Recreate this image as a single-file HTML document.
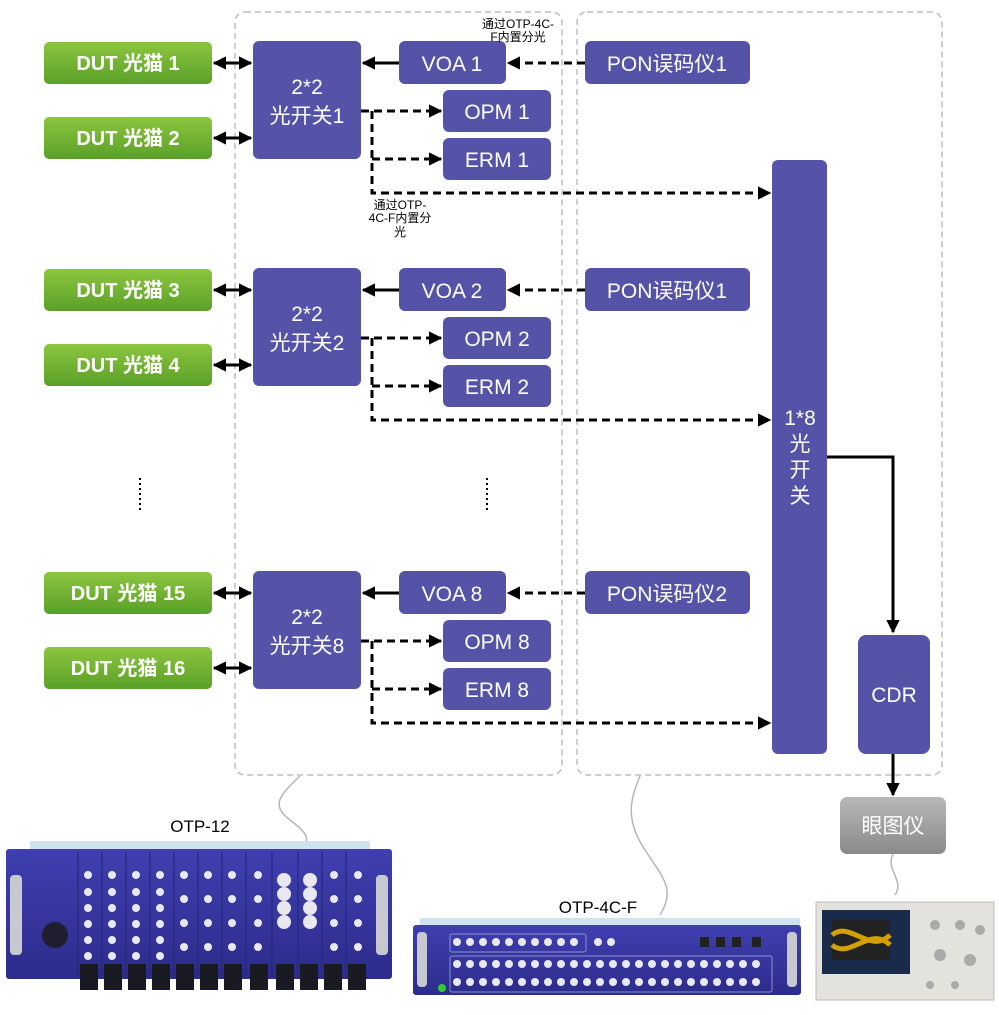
<!DOCTYPE html>
<html><head><meta charset="utf-8"><style>
html,body{margin:0;padding:0;background:#fff;}
svg{display:block;}
text{font-family:"Liberation Sans","Noto Sans CJK SC",sans-serif;}
</style></head><body>
<svg width="999" height="1015" viewBox="0 0 999 1015" xmlns="http://www.w3.org/2000/svg">
<defs>
<linearGradient id="gr" x1="0" y1="0" x2="0" y2="1"><stop offset="0" stop-color="#8cc63f"/><stop offset="1" stop-color="#5aa028"/></linearGradient>
<linearGradient id="gy" x1="0" y1="0" x2="0" y2="1"><stop offset="0" stop-color="#b8b8b8"/><stop offset="1" stop-color="#8a8a8a"/></linearGradient>
<linearGradient id="bl" x1="0" y1="0" x2="0" y2="1"><stop offset="0" stop-color="#3f3fb0"/><stop offset="1" stop-color="#2c2c8c"/></linearGradient>
<marker id="a" viewBox="0 0 10 10" refX="9" refY="5" markerWidth="4.5" markerHeight="4.5" orient="auto-start-reverse"><path d="M0,0L10,5L0,10z" fill="#000"/></marker>
<g id="grp">
 <rect x="44" y="42" width="168" height="42" rx="5" fill="url(#gr)"/>
 <rect x="44" y="117" width="168" height="42" rx="5" fill="url(#gr)"/>
 <line x1="214" y1="63" x2="251" y2="63" stroke="#000" stroke-width="3" marker-start="url(#a)" marker-end="url(#a)"/>
 <line x1="214" y1="138" x2="251" y2="138" stroke="#000" stroke-width="3" marker-start="url(#a)" marker-end="url(#a)"/>
 <rect x="253" y="41" width="108" height="118" rx="6" fill="#5553a8"/>
 <rect x="399" y="41" width="107" height="43" rx="6" fill="#5553a8"/>
 <rect x="443" y="90" width="108" height="42" rx="6" fill="#5553a8"/>
 <rect x="443" y="138" width="108" height="42" rx="6" fill="#5553a8"/>
 <rect x="585" y="41" width="165" height="43" rx="6" fill="#5553a8"/>
 <line x1="399" y1="63" x2="363" y2="63" stroke="#000" stroke-width="3" marker-end="url(#a)"/>
 <line x1="585" y1="63" x2="508" y2="63" stroke="#000" stroke-width="3" stroke-dasharray="8,5" marker-end="url(#a)"/>
 <line x1="361" y1="111" x2="441" y2="111" stroke="#000" stroke-width="3" stroke-dasharray="8,5" marker-end="url(#a)"/>
 <path d="M372,111V193H770" fill="none" stroke="#000" stroke-width="3" stroke-dasharray="8,5" marker-end="url(#a)"/>
 <line x1="372" y1="159" x2="441" y2="159" stroke="#000" stroke-width="3" stroke-dasharray="8,5" marker-end="url(#a)"/>
 <g fill="#fff" font-size="21" text-anchor="middle">
  <text x="307" y="94">2*2</text>
 </g>
</g>
</defs>
<rect x="235" y="12" width="327" height="763" rx="10" fill="none" stroke="#bdbdbd" stroke-width="1.5" stroke-dasharray="6,4"/>
<rect x="577" y="12" width="365" height="763" rx="10" fill="none" stroke="#bdbdbd" stroke-width="1.5" stroke-dasharray="6,4"/>

<use href="#grp"/>
<use href="#grp" transform="translate(0,227)"/>
<use href="#grp" transform="translate(0,530)"/>

<g fill="#fff" font-size="20" text-anchor="middle" font-weight="bold">
<text x="128" y="70">DUT 光猫 1</text><text x="128" y="145">DUT 光猫 2</text>
<text x="128" y="297">DUT 光猫 3</text><text x="128" y="372">DUT 光猫 4</text>
<text x="128" y="600">DUT 光猫 15</text><text x="128" y="675">DUT 光猫 16</text>
</g>
<g fill="#fff" font-size="21" text-anchor="middle">
<text x="307" y="123">光开关1</text><text x="307" y="350">光开关2</text><text x="307" y="653">光开关8</text>
<text x="452" y="71">VOA 1</text><text x="452" y="298">VOA 2</text><text x="452" y="601">VOA 8</text>
<text x="497" y="119">OPM 1</text><text x="497" y="346">OPM 2</text><text x="497" y="649">OPM 8</text>
<text x="497" y="167">ERM 1</text><text x="497" y="394">ERM 2</text><text x="497" y="697">ERM 8</text>
<text x="667" y="71">PON误码仪1</text><text x="667" y="298">PON误码仪1</text><text x="667" y="601">PON误码仪2</text>
</g>
<g font-size="12" fill="#000" text-anchor="middle">
<text x="518" y="28">通过OTP-4C-</text><text x="518" y="41">F内置分光</text>
<text x="400" y="209">通过OTP-</text><text x="400" y="222">4C-F内置分</text><text x="400" y="236">光</text>
</g>
<line x1="140" y1="478" x2="140" y2="512" stroke="#000" stroke-width="2" stroke-dasharray="2,3"/>
<line x1="487" y1="478" x2="487" y2="512" stroke="#000" stroke-width="2" stroke-dasharray="2,3"/>
<rect x="772" y="160" width="55" height="594" rx="6" fill="#5553a8"/>
<g fill="#fff" font-size="21" text-anchor="middle"><text x="800" y="425">1*8</text><text x="800" y="451">光</text><text x="800" y="477">开</text><text x="800" y="503">关</text></g>
<path d="M827,457H893V632" fill="none" stroke="#000" stroke-width="3" marker-end="url(#a)"/>
<rect x="858" y="635" width="72" height="119" rx="8" fill="#5553a8"/>
<text x="894" y="702" fill="#fff" font-size="21" text-anchor="middle">CDR</text>
<line x1="893" y1="754" x2="893" y2="795" stroke="#000" stroke-width="3" marker-end="url(#a)"/>
<rect x="840" y="797" width="106" height="57" rx="7" fill="url(#gy)"/>
<text x="893" y="833" fill="#fff" font-size="21" text-anchor="middle">眼图仪</text>
<path d="M300,776C280,795 270,805 290,820S310,840 300,848" fill="none" stroke="#b5b5b5" stroke-width="1.5"/>
<path d="M640,776C630,800 625,820 645,850S675,890 660,915" fill="none" stroke="#b5b5b5" stroke-width="1.5"/>
<path d="M893,854C885,870 905,880 895,895" fill="none" stroke="#b5b5b5" stroke-width="1.5"/>
<text x="200" y="832" font-size="17" text-anchor="middle" fill="#000">OTP-12</text>
<text x="598" y="913" font-size="17" text-anchor="middle" fill="#000">OTP-4C-F</text>
<rect x="30" y="841" width="340" height="8" fill="#cfe3ee"/>
<rect x="6" y="849" width="386" height="130" rx="3" fill="url(#bl)"/>
<rect x="10" y="875" width="12" height="80" rx="4" fill="#c8c8d0"/>
<rect x="376" y="875" width="12" height="80" rx="4" fill="#c8c8d0"/>
<g stroke="#23237a" stroke-width="1">
<line x1="78" y1="852" x2="78" y2="975"/><line x1="102" y1="852" x2="102" y2="975"/><line x1="126" y1="852" x2="126" y2="975"/><line x1="150" y1="852" x2="150" y2="975"/><line x1="174" y1="852" x2="174" y2="975"/><line x1="198" y1="852" x2="198" y2="975"/><line x1="222" y1="852" x2="222" y2="975"/><line x1="246" y1="852" x2="246" y2="975"/><line x1="272" y1="852" x2="272" y2="975"/><line x1="298" y1="852" x2="298" y2="975"/><line x1="322" y1="852" x2="322" y2="975"/><line x1="346" y1="852" x2="346" y2="975"/>
</g>
<circle cx="55" cy="935" r="13" fill="#1e1e2e"/>
<g fill="#e8e8ee">
<circle cx="88" cy="875" r="4"/><circle cx="88" cy="892" r="4"/><circle cx="88" cy="908" r="4"/><circle cx="88" cy="924" r="4"/><circle cx="88" cy="940" r="4"/><circle cx="88" cy="956" r="4"/>
<circle cx="112" cy="875" r="4"/><circle cx="112" cy="892" r="4"/><circle cx="112" cy="908" r="4"/><circle cx="112" cy="924" r="4"/><circle cx="112" cy="940" r="4"/><circle cx="112" cy="956" r="4"/>
<circle cx="136" cy="875" r="4"/><circle cx="136" cy="892" r="4"/><circle cx="136" cy="908" r="4"/><circle cx="136" cy="924" r="4"/><circle cx="136" cy="940" r="4"/><circle cx="136" cy="956" r="4"/>
<circle cx="160" cy="875" r="4"/><circle cx="160" cy="892" r="4"/><circle cx="160" cy="908" r="4"/><circle cx="160" cy="924" r="4"/><circle cx="160" cy="940" r="4"/><circle cx="160" cy="956" r="4"/>
<circle cx="184" cy="875" r="4"/><circle cx="184" cy="899" r="4"/><circle cx="184" cy="923" r="4"/><circle cx="184" cy="947" r="4"/>
<circle cx="208" cy="875" r="4"/><circle cx="208" cy="899" r="4"/><circle cx="208" cy="923" r="4"/><circle cx="208" cy="947" r="4"/>
<circle cx="232" cy="875" r="4"/><circle cx="232" cy="899" r="4"/><circle cx="232" cy="923" r="4"/><circle cx="232" cy="947" r="4"/>
<circle cx="258" cy="875" r="4"/><circle cx="258" cy="899" r="4"/><circle cx="258" cy="923" r="4"/><circle cx="258" cy="947" r="4"/>
<circle cx="284" cy="880" r="7"/><circle cx="284" cy="894" r="7"/><circle cx="284" cy="908" r="7"/><circle cx="284" cy="922" r="7"/>
<circle cx="310" cy="880" r="7"/><circle cx="310" cy="894" r="7"/><circle cx="310" cy="908" r="7"/><circle cx="310" cy="922" r="7"/>
<circle cx="334" cy="875" r="4"/><circle cx="334" cy="899" r="4"/><circle cx="334" cy="923" r="4"/><circle cx="334" cy="947" r="4"/>
<circle cx="358" cy="875" r="4"/><circle cx="358" cy="899" r="4"/><circle cx="358" cy="923" r="4"/><circle cx="358" cy="947" r="4"/>
</g>
<g fill="#1a1a22">
<rect x="80" y="964" width="18" height="26"/><rect x="104" y="964" width="18" height="26"/><rect x="128" y="964" width="18" height="26"/><rect x="152" y="964" width="18" height="26"/><rect x="176" y="964" width="18" height="26"/><rect x="200" y="964" width="18" height="26"/><rect x="224" y="964" width="18" height="26"/><rect x="250" y="964" width="18" height="26"/><rect x="276" y="964" width="18" height="26"/><rect x="300" y="964" width="18" height="26"/><rect x="324" y="964" width="18" height="26"/><rect x="348" y="964" width="18" height="26"/>
</g>
<rect x="420" y="918" width="380" height="8" fill="#cfe3ee"/>
<rect x="413" y="925" width="388" height="70" rx="3" fill="url(#bl)"/>
<rect x="417" y="932" width="10" height="55" rx="4" fill="#c8c8d0"/>
<rect x="787" y="932" width="10" height="55" rx="4" fill="#c8c8d0"/>
<rect x="450" y="934" width="136" height="18" rx="2" fill="none" stroke="#8f8fd0"/>
<rect x="450" y="956" width="322" height="36" rx="2" fill="none" stroke="#8f8fd0"/>
<g fill="#e8e8ee">
<circle cx="457" cy="942" r="4"/><circle cx="470" cy="942" r="4"/><circle cx="483" cy="942" r="4"/><circle cx="496" cy="942" r="4"/><circle cx="509" cy="942" r="4"/><circle cx="522" cy="942" r="4"/><circle cx="535" cy="942" r="4"/><circle cx="548" cy="942" r="4"/><circle cx="561" cy="942" r="4"/><circle cx="574" cy="942" r="4"/>
<circle cx="598" cy="942" r="4"/><circle cx="611" cy="942" r="4"/>
<rect x="700" y="937" width="9" height="10" fill="#222"/><rect x="716" y="937" width="9" height="10" fill="#222"/><rect x="732" y="937" width="9" height="10" fill="#222"/><rect x="752" y="937" width="9" height="10" fill="#222"/>
</g>
<g fill="#e8e8ee">
<circle cx="457" cy="964" r="4"/><circle cx="470" cy="964" r="4"/><circle cx="483" cy="964" r="4"/><circle cx="496" cy="964" r="4"/><circle cx="509" cy="964" r="4"/><circle cx="522" cy="964" r="4"/><circle cx="535" cy="964" r="4"/><circle cx="548" cy="964" r="4"/><circle cx="561" cy="964" r="4"/><circle cx="574" cy="964" r="4"/><circle cx="587" cy="964" r="4"/><circle cx="600" cy="964" r="4"/><circle cx="613" cy="964" r="4"/><circle cx="626" cy="964" r="4"/><circle cx="639" cy="964" r="4"/><circle cx="652" cy="964" r="4"/><circle cx="665" cy="964" r="4"/><circle cx="678" cy="964" r="4"/><circle cx="691" cy="964" r="4"/><circle cx="704" cy="964" r="4"/><circle cx="717" cy="964" r="4"/><circle cx="730" cy="964" r="4"/><circle cx="743" cy="964" r="4"/><circle cx="756" cy="964" r="4"/>
<circle cx="457" cy="982" r="4"/><circle cx="470" cy="982" r="4"/><circle cx="483" cy="982" r="4"/><circle cx="496" cy="982" r="4"/><circle cx="509" cy="982" r="4"/><circle cx="522" cy="982" r="4"/><circle cx="535" cy="982" r="4"/><circle cx="548" cy="982" r="4"/><circle cx="561" cy="982" r="4"/><circle cx="574" cy="982" r="4"/><circle cx="587" cy="982" r="4"/><circle cx="600" cy="982" r="4"/><circle cx="613" cy="982" r="4"/><circle cx="626" cy="982" r="4"/><circle cx="639" cy="982" r="4"/><circle cx="652" cy="982" r="4"/><circle cx="665" cy="982" r="4"/><circle cx="678" cy="982" r="4"/><circle cx="691" cy="982" r="4"/><circle cx="704" cy="982" r="4"/><circle cx="717" cy="982" r="4"/><circle cx="730" cy="982" r="4"/><circle cx="743" cy="982" r="4"/><circle cx="756" cy="982" r="4"/>
</g>
<circle cx="442" cy="988" r="4" fill="#3c3"/>
<rect x="816" y="902" width="178" height="98" fill="#e4e2dc" stroke="#bbb"/>
<rect x="822" y="910" width="88" height="64" fill="#1a2a4a"/>
<rect x="832" y="920" width="58" height="40" fill="#222"/>
<path d="M832,935C850,920 870,955 890,935M832,945C850,960 870,925 890,945" stroke="#d4a000" stroke-width="5" fill="none"/>
<g fill="#aaa"><circle cx="935" cy="925" r="5"/><circle cx="960" cy="925" r="5"/><circle cx="980" cy="930" r="5"/><circle cx="940" cy="955" r="6"/><circle cx="970" cy="960" r="6"/><circle cx="930" cy="985" r="4"/><circle cx="955" cy="985" r="4"/></g>
</svg>
</body></html>
